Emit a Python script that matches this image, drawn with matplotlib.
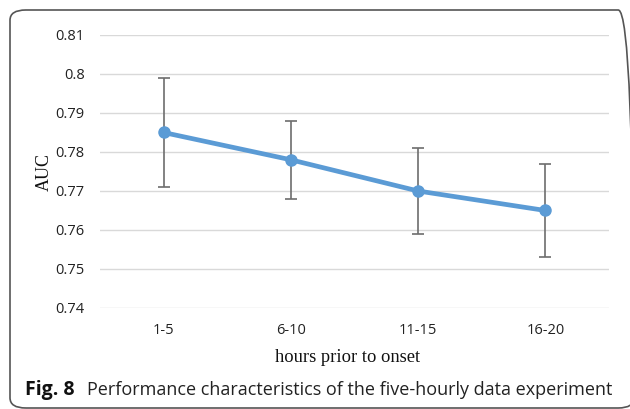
import matplotlib
matplotlib.use("Agg")
import matplotlib.pyplot as plt
from matplotlib.patches import FancyBboxPatch

categories = ["1-5", "6-10", "11-15", "16-20"]
auc = [0.785, 0.778, 0.770, 0.765]
err_low = [0.771, 0.768, 0.759, 0.753]
err_high = [0.799, 0.788, 0.781, 0.777]
yticks = [0.74, 0.75, 0.76, 0.77, 0.78, 0.79, 0.80, 0.81]
ytick_labels = ["0.74", "0.75", "0.76", "0.77", "0.78", "0.79", "0.8", "0.81"]

W, H = 630, 409
fig = plt.figure(figsize=(W/100, H/100), dpi=100)
ax = fig.add_axes([100/W, 1-308/H, (609-100)/W, (308-35)/H])

x = [i + 0.5 for i in range(len(categories))]
yerr = [[a - l for a, l in zip(auc, err_low)], [h - a for a, h in zip(auc, err_high)]]
ax.errorbar(x, auc, yerr=yerr, fmt='none', ecolor='#6d6d6d', elinewidth=1.2, capsize=4, capthick=1.2, zorder=2)
ax.plot(x, auc, color='#5B9BD5', linewidth=3.4, marker='o', markersize=8, zorder=3)

ax.set_xlim(0, 4)
ax.set_ylim(0.74, 0.81)
ax.set_yticks(yticks)
ax.set_yticklabels(ytick_labels, family='Open Sans', fontsize=10.5)
ax.set_xticks(x)
ax.set_xticklabels(categories, family='Open Sans', fontsize=10.5)
ax.tick_params(length=0, colors='#222222')
ax.tick_params(axis='x', pad=11)
ax.tick_params(axis='y', pad=11)
ax.yaxis.grid(True, color='#d9d9d9', linewidth=1)
ax.set_axisbelow(True)
for s in ax.spines.values():
    s.set_visible(False)

fig.text(44/W, 1-172/H, "AUC", family='Liberation Serif', fontsize=13, rotation=90,
         ha='center', va='center', color='#111111')
fig.text(347.5/W, 1-362/H, "hours prior to onset", family='Liberation Serif', fontsize=13.3,
         ha='center', va='baseline', color='#111111')

box = FancyBboxPatch((10/W, 1/H), 624/W, (H-11)/H, boxstyle="round,pad=0,rounding_size=0.025",
                     transform=fig.transFigure, fill=False, edgecolor='#555555', linewidth=1.2, clip_on=False)
fig.patches.append(box)

fig.text(25/W, 1-395/H, "Fig. 8", fontsize=14, va='baseline', ha='left', family='Open Sans',
         weight='bold', color='#111111')
fig.text(87/W, 1-395/H, "Performance characteristics of the five-hourly data experiment", fontsize=13,
         va='baseline', ha='left', family='Open Sans', color='#222222')

fig.savefig("out.png", dpi=100)
